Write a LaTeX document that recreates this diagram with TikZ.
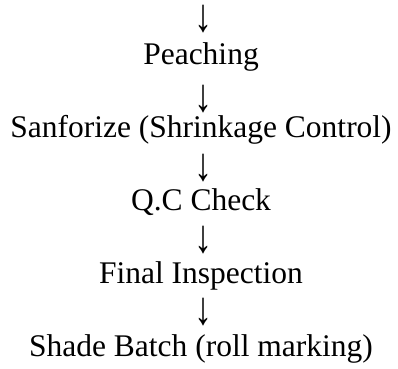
\documentclass[tikz,border=0pt]{standalone}
\usepackage{fontspec}
\setmainfont{Liberation Serif}
\usepackage{graphicx}
\newcommand{\bigdown}{\scalebox{1}[1.3]{\fontsize{36}{40}\selectfont ↓}}
\begin{document}
\begin{tikzpicture}[x=1pt,y=1pt,
  lbl/.style={anchor=base,inner sep=0pt,font=\fontsize{31.5}{36}\selectfont},
  arr/.style={anchor=center,inner sep=0pt}]
\useasboundingbox (0,0) rectangle (398,368);
\node[arr] (a0) at (203.5,368-19) {\bigdown};
\node[lbl] (n1) at (201,368-64) {Peaching};
\node[arr] (a1) at (203.5,368-99.5) {\bigdown};
\node[lbl] (n2) at (201,368-137) {Sanforize (Shrinkage Control)};
\node[arr] (a2) at (203.5,368-168.5) {\bigdown};
\node[lbl] (n3) at (201,368-210) {Q.C Check};
\node[arr] (a3) at (203.5,368-240.5) {\bigdown};
\node[lbl] (n4) at (201,368-283) {Final Inspection};
\node[arr] (a4) at (203.5,368-312.5) {\bigdown};
\node[lbl] (n5) at (201,368-356) {Shade Batch (roll marking)};
\end{tikzpicture}
\end{document}
